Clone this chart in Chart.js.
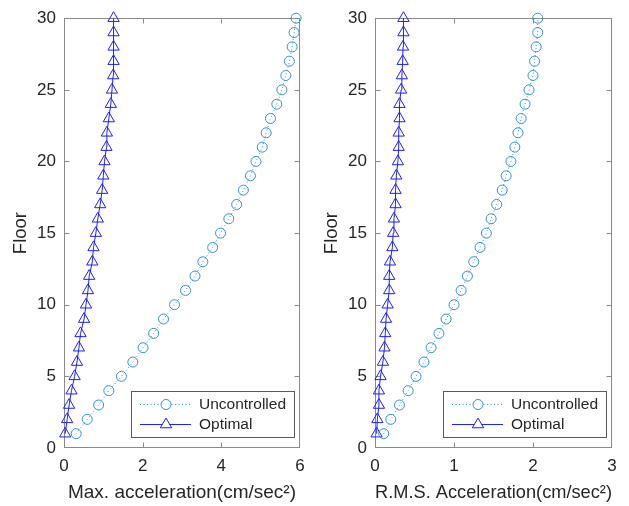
<!DOCTYPE html>
<html><head><meta charset="utf-8">
<script src="https://cdn.jsdelivr.net/npm/chart.js@4/dist/chart.umd.min.js"></script>
<style>
html,body{margin:0;padding:0;background:#fff;}
#wrap{position:relative;width:629px;height:506px;overflow:hidden;}
.c{position:absolute;top:0;}
</style></head><body>
<div id="wrap">
<div class="c" style="left:0;width:315px;height:506px;"><canvas id="c1" style="width:315px;height:506px"></canvas></div>
<div class="c" style="left:311px;width:318px;height:506px;"><canvas id="c2" style="width:318px;height:506px"></canvas></div>
</div>
<script>
// ---- data ----
const floors = [1,2,3,4,5,6,7,8,9,10,11,12,13,14,15,16,17,18,19,20,21,22,23,24,25,26,27,28,29,30];
const maxUncontrolled = [0.31,0.59,0.88,1.14,1.46,1.75,2.01,2.28,2.53,2.81,3.09,3.33,3.53,3.78,3.98,4.19,4.39,4.56,4.74,4.88,5.04,5.14,5.25,5.41,5.54,5.64,5.73,5.80,5.85,5.90];
const maxOptimal = [0.03,0.08,0.13,0.19,0.27,0.33,0.38,0.42,0.51,0.56,0.61,0.64,0.72,0.75,0.81,0.86,0.92,0.97,1.00,1.03,1.08,1.09,1.14,1.19,1.22,1.25,1.26,1.26,1.26,1.26];
const rmsUncontrolled = [0.11,0.20,0.31,0.42,0.52,0.62,0.71,0.81,0.90,1.00,1.09,1.17,1.25,1.33,1.41,1.47,1.54,1.61,1.66,1.72,1.77,1.81,1.85,1.90,1.95,2.00,2.02,2.04,2.06,2.06];
const rmsOptimal = [0.02,0.03,0.05,0.05,0.07,0.10,0.12,0.13,0.14,0.16,0.18,0.18,0.19,0.22,0.23,0.24,0.26,0.26,0.27,0.29,0.30,0.30,0.31,0.31,0.33,0.34,0.35,0.355,0.36,0.36];
const floorTicks = [0,5,10,15,20,25,30];
const maxTicks = [0,2,4,6];
const rmsTicks = [0,1,2,3];
const seriesNames = ['Uncontrolled','Optimal'];
const yTitle = 'Floor';
const maxTitle = 'Max. acceleration(cm/sec\u00B2)';
const rmsTitle = 'R.M.S. Acceleration(cm/sec\u00B2)';

// ---- styles ----
const FONT = "'Liberation Sans', Arial, sans-serif";
const AXIS_COLOR = '#8a8a8a';
const TEXT_COLOR = '#262626';
const UNC_COLOR = '#3090dc';
const OPT_COLOR = '#1f1fff';
Chart.defaults.font.family = FONT;
Chart.defaults.color = TEXT_COLOR;

const boxPlugin = {
  id: 'matlabBox',
  beforeDatasetsDraw(chart) {
    const {ctx, chartArea: a, scales: {x, y}} = chart;
    ctx.save();
    ctx.strokeStyle = AXIS_COLOR;
    ctx.lineWidth = 1;
    const L = Math.round(a.left) + 0.5, R = Math.round(a.right) - 0.5;
    const T = Math.round(a.top) + 0.5, B = Math.round(a.bottom) - 0.5;
    ctx.strokeRect(L, T, R - L, B - T);
    const tl = 5;
    ctx.beginPath();
    x.ticks.forEach(t => {
      const px = Math.round(x.getPixelForValue(t.value)) + 0.5;
      if (px <= L + 1 || px >= R - 1) return;
      ctx.moveTo(px, B); ctx.lineTo(px, B - tl);
      ctx.moveTo(px, T); ctx.lineTo(px, T + tl);
    });
    y.ticks.forEach(t => {
      const py = Math.round(y.getPixelForValue(t.value)) + 0.5;
      if (py <= T + 1 || py >= B - 1) return;
      ctx.moveTo(L, py); ctx.lineTo(L + tl, py);
      ctx.moveTo(R, py); ctx.lineTo(R - tl, py);
    });
    ctx.stroke();
    ctx.restore();
  },
  afterDatasetsDraw(chart) {
    const {ctx, chartArea: a} = chart;
    const w = 164, h = 47;
    const right = Math.round(a.right) - 5, bottom = Math.round(a.bottom) - 10;
    const left = right - w, top = bottom - h;
    ctx.save();
    ctx.fillStyle = '#fff';
    ctx.fillRect(left, top, w, h);
    ctx.strokeStyle = '#5a5a5a';
    ctx.lineWidth = 1;
    ctx.strokeRect(left + 0.5, top + 0.5, w - 1, h - 1);
    chart.data.datasets.forEach((ds, i) => {
      const yy = top + 13.5 + i * 20;
      ctx.strokeStyle = ds.borderColor;
      ctx.lineWidth = 1;
      ctx.setLineDash(ds.borderDash || []);
      ctx.beginPath();
      ctx.moveTo(left + 9, yy); ctx.lineTo(left + 60, yy);
      ctx.stroke();
      ctx.setLineDash([]);
      ctx.fillStyle = '#ffffff';
      ctx.strokeStyle = ds.pointBorderColor;
      Chart.helpers.drawPoint(ctx, {pointStyle: ds.pointStyle, radius: ds.pointRadius, borderWidth: 1, rotation: 0}, left + 35, yy);
      ctx.fillStyle = TEXT_COLOR;
      ctx.font = '15.5px ' + FONT;
      ctx.textBaseline = 'middle';
      ctx.textAlign = 'left';
      ctx.fillText(ds.label, left + 68, yy + 0.5);
    });
    ctx.restore();
  }
};

function makeChart(id, xMax, xTicks, xTitle, unc, opt, rightPad) {
  const ctx = document.getElementById(id);
  return new Chart(ctx, {
    type: 'line',
    data: {
      datasets: [
        {
          label: seriesNames[0],
          data: floors.map((f, i) => ({x: unc[i], y: f})),
          borderColor: UNC_COLOR, backgroundColor: 'rgba(0,0,0,0)',
          borderWidth: 1, borderDash: [1, 2.5],
          pointStyle: 'circle', pointRadius: 5, pointBorderWidth: 1,
          pointBorderColor: UNC_COLOR, pointBackgroundColor: 'rgba(0,0,0,0)',
          fill: false, clip: false, tension: 0
        },
        {
          label: seriesNames[1],
          data: floors.map((f, i) => ({x: opt[i], y: f})),
          borderColor: OPT_COLOR, backgroundColor: 'rgba(0,0,0,0)',
          borderWidth: 1,
          pointStyle: 'triangle', pointRadius: 6.5, pointBorderWidth: 1,
          pointBorderColor: OPT_COLOR, pointBackgroundColor: 'rgba(0,0,0,0)',
          fill: false, clip: false, tension: 0
        }
      ]
    },
    options: {
      responsive: false,
      animation: false,
      devicePixelRatio: 1,
      layout: {padding: {top: 15, right: rightPad, left: 0, bottom: 0}},
      plugins: {legend: {display: false}, tooltip: {enabled: false}},
      scales: {
        x: {
          type: 'linear', min: 0, max: xMax,
          afterBuildTicks: s => { s.ticks = xTicks.map(v => ({value: v})); },
          afterFit: s => { s.height = 58; },
          grid: {display: false, drawTicks: false},
          border: {display: false},
          ticks: {font: {size: 17}, color: TEXT_COLOR, padding: 8, maxRotation: 0},
          title: {display: true, text: xTitle, font: {size: 19}, color: TEXT_COLOR, padding: {top: 0, bottom: 2}}
        },
        y: {
          type: 'linear', min: 0, max: 30,
          afterBuildTicks: s => { s.ticks = floorTicks.map(v => ({value: v})); },
          afterFit: s => { s.width = 64; },
          grid: {display: false, drawTicks: false},
          border: {display: false},
          ticks: {font: {size: 17}, color: TEXT_COLOR, padding: 8},
          title: {display: true, text: yTitle, font: {size: 18.5}, color: TEXT_COLOR, padding: {top: 10, bottom: 0}}
        }
      }
    },
    plugins: [boxPlugin]
  });
}

document.getElementById('c1').width = 315; document.getElementById('c1').height = 506;
document.getElementById('c2').width = 318; document.getElementById('c2').height = 506;
makeChart('c1', 6, maxTicks, maxTitle, maxUncontrolled, maxOptimal, 15);
makeChart('c2', 3, rmsTicks, rmsTitle, rmsUncontrolled, rmsOptimal, 17);
</script>
</body></html>
